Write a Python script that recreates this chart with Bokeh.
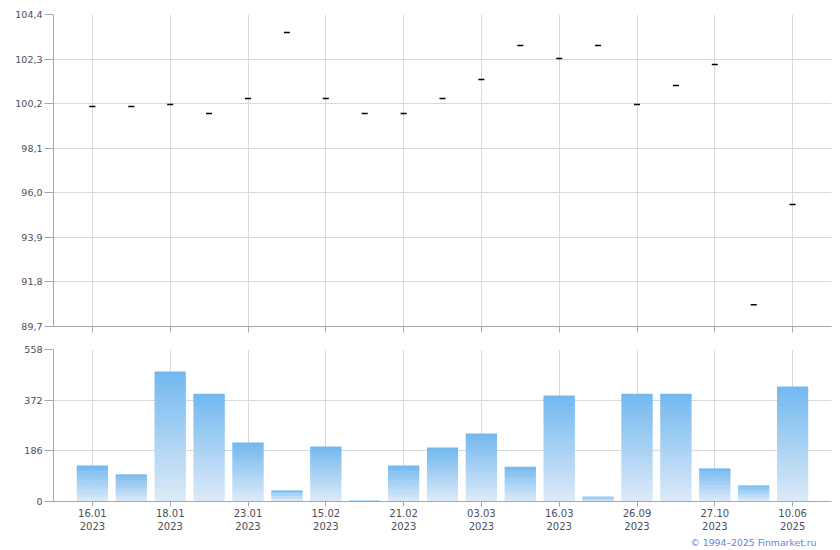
import numpy as np
from bokeh.plotting import figure
from bokeh.layouts import column
from bokeh.models import FixedTicker, Title, ColumnDataSource, Range1d
from bokeh.embed import file_html
from bokeh.resources import INLINE

# ---- data ----
x_tick_labels = ["16.01\n2023", "18.01\n2023", "23.01\n2023", "15.02\n2023", "21.02\n2023",
                 "03.03\n2023", "16.03\n2023", "26.09\n2023", "27.10\n2023", "10.06\n2025"]
prices = [100.06, 100.06, 100.16, 99.73, 100.44, 103.55, 100.44, 99.73, 99.73, 100.44,
          101.34, 102.94, 102.33, 102.94, 100.16, 101.05, 102.04, 90.73, 95.45]
volumes = [132, 99, 477, 396, 217, 40, 202, 4, 132, 198, 250, 128, 389, 18, 396, 396,
           121, 59, 422]
price_ticks = [89.7, 91.8, 93.9, 96.0, 98.1, 100.2, 102.3, 104.4]
price_tick_labels = ["89,7", "91,8", "93,9", "96,0", "98,1", "100,2", "102,3", "104,4"]
volume_ticks = [0, 186, 372, 558]

n = len(prices)
idx = np.arange(n)
label_idx = list(range(0, n, 2))

FONT = "DejaVu Sans"
LABEL_COLOR = "#4d4d5c"
AXIS_COLOR = "#a4a7b0"
GRID_COLOR = "#d6dade"
W = 840

def style(p):
    p.toolbar_location = None
    p.outline_line_color = None
    p.background_fill_color = "white"
    p.border_fill_color = "white"
    for ax in (p.xaxis[0], p.yaxis[0]):
        ax.axis_line_color = AXIS_COLOR
        ax.major_tick_line_color = AXIS_COLOR
        ax.minor_tick_line_color = None
        ax.major_label_text_color = LABEL_COLOR
        ax.major_label_text_font = FONT
    p.yaxis.major_label_text_font_size = "9.5px"
    p.xaxis.major_label_text_font_size = "10px"
    p.xgrid.grid_line_color = GRID_COLOR
    p.ygrid.grid_line_color = GRID_COLOR
    p.yaxis.major_tick_out = 9
    p.yaxis.major_tick_in = 0
    p.yaxis.major_label_standoff = 2
    p.xaxis.ticker = FixedTicker(ticks=label_idx)
    p.xaxis.major_tick_in = 0

# ---- top: price ----
p1 = figure(width=W, height=340, output_backend="svg", toolbar_location=None,
            x_range=Range1d(-1, n), y_range=Range1d(89.7, 104.4),
            min_border_left=53, min_border_right=9, min_border_top=14, min_border_bottom=14)
style(p1)
p1.yaxis.ticker = FixedTicker(ticks=price_ticks)
p1.yaxis.major_label_overrides = dict(zip(price_ticks, price_tick_labels))
p1.xaxis.major_tick_out = 6
p1.xaxis.major_label_standoff = 0
p1.xaxis.major_label_overrides = {i: "" for i in label_idx}
p1.scatter(idx, prices, marker="dash", size=6, line_color="black", line_width=1.5)

# ---- bottom: volume with vertical gradient bars ----
p2 = figure(width=W, height=210, output_backend="svg", toolbar_location=None,
            x_range=p1.x_range, y_range=Range1d(0, 558),
            min_border_left=53, min_border_right=9, min_border_top=9, min_border_bottom=49)
style(p2)
p2.yaxis.ticker = FixedTicker(ticks=volume_ticks)
p2.xaxis.major_tick_out = 5
p2.xaxis.major_label_standoff = 1
p2.xaxis.major_label_overrides = {i: lab for i, lab in zip(label_idx, x_tick_labels)}

N = 40
top_rgb = np.array([0x72, 0xb8, 0xef])
bot_rgb = np.array([0xdd, 0xea, 0xf7])
xs, bots, tops, cols = [], [], [], []
for i, v in enumerate(volumes):
    for j in range(N):
        t = (j + 0.5) / N
        c = bot_rgb + (top_rgb - bot_rgb) * t
        xs.append(i)
        bots.append(v * j / N)
        tops.append(v * min(j + 1.6, N) / N)
        cols.append("#%02x%02x%02x" % tuple(int(round(k)) for k in c))
src = ColumnDataSource(dict(x=xs, bottom=bots, top=tops, color=cols))
p2.vbar(x="x", bottom="bottom", top="top", width=0.8, fill_color="color",
        line_color=None, source=src)

p2.add_layout(Title(text="© 1994–2025 Finmarket.ru", align="right", text_color="#5b86e0",
                    text_font=FONT, text_font_size="9.3px", text_font_style="normal",
                    offset=15, standoff=0), "below")

layout = column(p1, p2, spacing=0)
open("out.html", "w").write(file_html(layout, INLINE))
